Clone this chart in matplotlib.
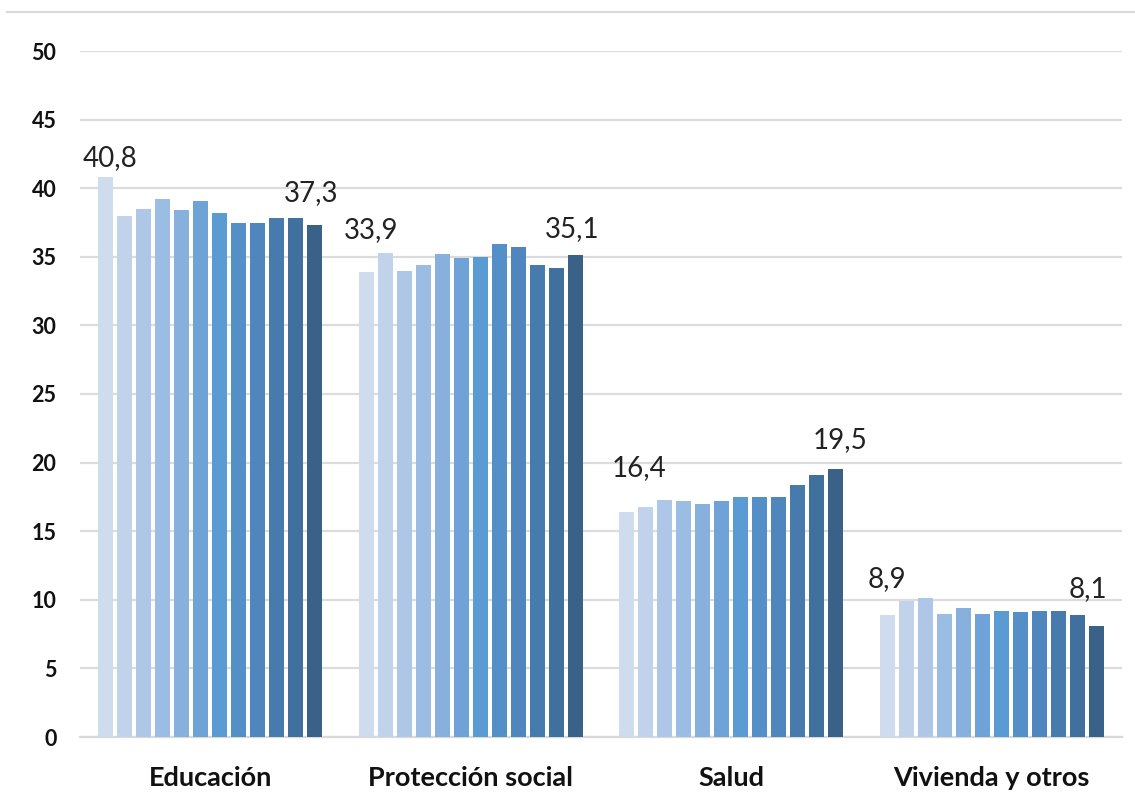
import matplotlib
matplotlib.use("Agg")
import matplotlib.pyplot as plt
import numpy as np
from matplotlib.lines import Line2D

categories = ["Educación", "Protección social", "Salud", "Vivienda y otros"]
educacion = [40.8, 38.0, 38.5, 39.2, 38.4, 39.1, 38.2, 37.5, 37.5, 37.8, 37.8, 37.3]
proteccion = [33.9, 35.3, 34.0, 34.4, 35.2, 34.9, 35.0, 35.9, 35.7, 34.4, 34.2, 35.1]
salud = [16.4, 16.8, 17.3, 17.2, 17.0, 17.2, 17.5, 17.5, 17.5, 18.4, 19.1, 19.5]
vivienda = [8.9, 9.9, 10.1, 9.0, 9.4, 9.0, 9.2, 9.1, 9.2, 9.2, 8.9, 8.1]
series_by_group = [educacion, proteccion, salud, vivienda]
yticks = [0, 5, 10, 15, 20, 25, 30, 35, 40, 45, 50]

colors = ["#cfdcee", "#c0d3eb", "#afc7e6", "#9bbde3", "#87b0dd", "#6fa3d8",
          "#5b9bd3", "#548fc8", "#4f86bd", "#477bae", "#40709e", "#3a6289"]

# label placement (pixels): (dx, dy) for first and last label of each group
label_offsets = [((4, 11), (-4, 24)), ((5, 34), (-3, 18)),
                 ((12, 36), (4, 21)), ((0, 28), (-8, 29))]

plt.rcParams['font.family'] = ['Lato', 'DejaVu Sans']

fig = plt.figure(figsize=(11.35, 8), dpi=100)
ax = fig.add_axes([80/1135, 63/800, (1122-80)/1135, (737-51)/800])

n = len(colors)
pitch = 0.0729
width = 0.0576
for gi, vals in enumerate(series_by_group):
    xs = gi + (np.arange(n) - (n - 1) / 2) * pitch
    ax.bar(xs, vals, width=width, color=colors, zorder=3, linewidth=0)
    for k, idx in enumerate([0, n - 1]):
        dx, dy = label_offsets[gi][k]
        ax.annotate(f"{vals[idx]:.1f}".replace(".", ","), (xs[idx], vals[idx]),
                    xytext=(dx, dy), textcoords="offset pixels",
                    ha="center", va="baseline", fontsize=20, color="#222222",
                    zorder=4)

ax.set_xlim(-0.5, 3.5)
ax.set_ylim(0, 50)
ax.set_yticks(yticks)
ax.set_yticklabels([str(t) for t in yticks], fontsize=15.5, fontweight="bold",
                   color="#111111")
ax.set_xticks(range(len(categories)))
ax.set_xticklabels(categories, fontsize=19.5, fontweight="bold", color="#111111")
ax.tick_params(axis="y", length=0, pad=17)
ax.tick_params(axis="x", length=0, pad=21)
ax.grid(axis="y", color="#dcdcdc", linewidth=1.6, zorder=0)
ax.set_axisbelow(True)
for s in ["top", "right", "left"]:
    ax.spines[s].set_visible(False)
ax.spines["bottom"].set_color("#d9d9d9")
ax.spines["bottom"].set_linewidth(1.6)

fig.add_artist(Line2D([7/1135, 1.0], [788/800, 788/800], color="#d9d9d9",
                      linewidth=1.5, transform=fig.transFigure))

fig.savefig("out.png", dpi=100, facecolor="white")
